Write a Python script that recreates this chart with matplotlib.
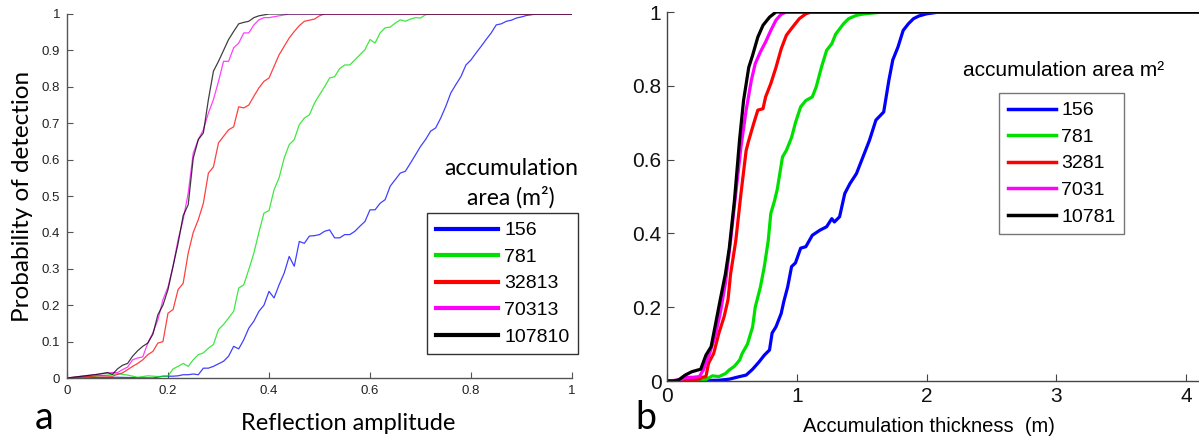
import matplotlib
matplotlib.use("Agg")
import matplotlib.pyplot as plt

# ---- panel a: probability of detection vs reflection amplitude ----
a_labels = ["156", "781", "32813", "70313", "107810"]
a_colors = ["#0000ff", "#00e000", "#ff0000", "#ff00ff", "#000000"]

a_x_156 = [0, 0.10, 0.17, 0.19, 0.21, 0.22, 0.23, 0.24, 0.25, 0.26, 0.27, 0.28, 0.29, 0.30,
           0.31, 0.32, 0.33, 0.34, 0.35, 0.36, 0.37, 0.38, 0.39, 0.40, 0.41, 0.42, 0.43, 0.44,
           0.45, 0.46, 0.47, 0.48, 0.49, 0.50, 0.51, 0.52, 0.53, 0.54, 0.55, 0.56, 0.57, 0.58,
           0.59, 0.60, 0.61, 0.62, 0.63, 0.64, 0.65, 0.66, 0.67, 0.68, 0.69, 0.70, 0.71, 0.72,
           0.73, 0.74, 0.75, 0.76, 0.77, 0.78, 0.79, 0.80, 0.81, 0.82, 0.83, 0.84, 0.85, 0.86,
           0.87, 0.88, 0.89, 0.90, 0.91, 0.92, 0.93, 1.0]
a_y_156 = [0, 0.002, 0, 0.005, 0.005, 0.006, 0.009, 0.009, 0.011, 0.009, 0.027, 0.027, 0.032, 0.039,
           0.046, 0.06, 0.087, 0.08, 0.105, 0.137, 0.156, 0.183, 0.20, 0.238, 0.22, 0.256, 0.288, 0.334,
           0.307, 0.375, 0.37, 0.39, 0.391, 0.394, 0.403, 0.407, 0.385, 0.385, 0.394, 0.394, 0.403, 0.417,
           0.43, 0.462, 0.462, 0.48, 0.49, 0.527, 0.545, 0.563, 0.568, 0.59, 0.613, 0.636, 0.655, 0.678,
           0.687, 0.714, 0.746, 0.783, 0.806, 0.828, 0.86, 0.874, 0.893, 0.911, 0.93, 0.948, 0.97, 0.973,
           0.98, 0.983, 0.989, 0.992, 0.996, 0.998, 1.0, 1.0]

a_x_781 = [0, 0.04, 0.08, 0.10, 0.12, 0.14, 0.16, 0.18, 0.20, 0.21, 0.22, 0.23, 0.24, 0.25,
           0.26, 0.27, 0.28, 0.29, 0.30, 0.31, 0.32, 0.33, 0.34, 0.35, 0.36, 0.37, 0.38, 0.39,
           0.40, 0.41, 0.42, 0.43, 0.44, 0.45, 0.46, 0.47, 0.48, 0.49, 0.50, 0.51, 0.52, 0.53,
           0.54, 0.55, 0.56, 0.57, 0.58, 0.59, 0.60, 0.61, 0.62, 0.63, 0.64, 0.65, 0.66, 0.67,
           0.68, 0.69, 0.70, 0.71, 0.72, 1.0]
a_y_781 = [0, 0.003, 0.008, 0.012, 0.008, 0.002, 0.006, 0.004, 0.005, 0.025, 0.032, 0.04, 0.032, 0.05,
           0.064, 0.069, 0.082, 0.092, 0.133, 0.147, 0.165, 0.183, 0.247, 0.256, 0.298, 0.343, 0.40, 0.453,
           0.46, 0.517, 0.55, 0.604, 0.641, 0.655, 0.696, 0.714, 0.723, 0.755, 0.778, 0.80, 0.824, 0.828,
           0.85, 0.86, 0.86, 0.874, 0.888, 0.902, 0.93, 0.92, 0.948, 0.962, 0.964, 0.975, 0.984, 0.98,
           0.986, 0.99, 0.989, 0.998, 1.0, 1.0]

a_x_32813 = [0, 0.03, 0.06, 0.09, 0.10, 0.11, 0.12, 0.13, 0.14, 0.15, 0.16, 0.17, 0.18, 0.19,
             0.20, 0.21, 0.22, 0.23, 0.24, 0.25, 0.26, 0.27, 0.28, 0.29, 0.30, 0.31, 0.32, 0.33,
             0.34, 0.35, 0.36, 0.37, 0.38, 0.39, 0.40, 0.41, 0.42, 0.43, 0.44, 0.45, 0.46, 0.47,
             0.48, 0.49, 0.50, 0.51, 1.0]
a_y_32813 = [0, 0.003, 0.006, 0.005, 0.01, 0.014, 0.023, 0.032, 0.04, 0.05, 0.064, 0.073, 0.096, 0.10,
             0.178, 0.188, 0.243, 0.26, 0.343, 0.40, 0.435, 0.48, 0.563, 0.58, 0.646, 0.664, 0.682, 0.69,
             0.745, 0.742, 0.75, 0.774, 0.797, 0.815, 0.824, 0.856, 0.888, 0.911, 0.934, 0.952, 0.968, 0.98,
             0.983, 0.986, 0.995, 1.0, 1.0]

a_x_70313 = [0, 0.03, 0.06, 0.09, 0.10, 0.11, 0.12, 0.13, 0.14, 0.15, 0.16, 0.17, 0.18, 0.19,
             0.20, 0.21, 0.22, 0.23, 0.24, 0.25, 0.26, 0.27, 0.28, 0.29, 0.30, 0.31, 0.32, 0.33,
             0.34, 0.35, 0.36, 0.37, 0.38, 0.39, 0.40, 0.42, 0.44, 1.0]
a_y_70313 = [0, 0.005, 0.01, 0.015, 0.015, 0.023, 0.03, 0.05, 0.055, 0.058, 0.096, 0.124, 0.16, 0.215,
             0.25, 0.307, 0.38, 0.435, 0.508, 0.618, 0.655, 0.682, 0.728, 0.765, 0.815, 0.87, 0.87, 0.907,
             0.92, 0.948, 0.948, 0.97, 0.984, 0.99, 0.99, 0.995, 1.0, 1.0]

a_x_107810 = [0, 0.03, 0.06, 0.08, 0.09, 0.10, 0.11, 0.12, 0.13, 0.14, 0.15, 0.16, 0.17, 0.18,
              0.19, 0.20, 0.21, 0.22, 0.23, 0.24, 0.25, 0.26, 0.27, 0.28, 0.29, 0.30, 0.31, 0.32,
              0.33, 0.34, 0.35, 0.36, 0.37, 0.38, 0.40, 1.0]
a_y_107810 = [0, 0.005, 0.01, 0.015, 0.01, 0.025, 0.035, 0.04, 0.06, 0.075, 0.087, 0.096, 0.12, 0.174,
              0.2, 0.243, 0.307, 0.37, 0.446, 0.476, 0.604, 0.655, 0.673, 0.765, 0.843, 0.87, 0.90, 0.93,
              0.952, 0.973, 0.977, 0.98, 0.99, 0.995, 1.0, 1.0]

# ---- panel b: probability of detection vs accumulation thickness ----
b_labels = ["156", "781", "3281", "7031", "10781"]
b_colors = ["#0000ff", "#00e000", "#ff0000", "#ff00ff", "#000000"]

b_x_156 = [0, 0.40, 0.48, 0.56, 0.61, 0.66, 0.71, 0.75, 0.79, 0.81, 0.84, 0.88, 0.90, 0.93,
           0.96, 0.99, 1.03, 1.07, 1.12, 1.18, 1.23, 1.27, 1.29, 1.33, 1.37, 1.41, 1.46, 1.51,
           1.56, 1.61, 1.67, 1.71, 1.74, 1.78, 1.82, 1.86, 1.90, 1.94, 2.0, 2.1, 4.1]
b_y_156 = [0, 0.002, 0.005, 0.012, 0.016, 0.032, 0.052, 0.07, 0.084, 0.13, 0.147, 0.183, 0.215, 0.255,
           0.31, 0.32, 0.36, 0.364, 0.395, 0.409, 0.418, 0.44, 0.431, 0.445, 0.508, 0.535, 0.562, 0.607,
           0.652, 0.707, 0.729, 0.815, 0.87, 0.905, 0.95, 0.968, 0.982, 0.989, 0.995, 1.0, 1.0]

b_x_781 = [0, 0.15, 0.30, 0.35, 0.40, 0.45, 0.48, 0.52, 0.56, 0.58, 0.62, 0.66, 0.68, 0.72,
           0.75, 0.78, 0.80, 0.83, 0.85, 0.89, 0.92, 0.96, 0.99, 1.03, 1.07, 1.12, 1.15, 1.19,
           1.23, 1.27, 1.30, 1.36, 1.40, 1.46, 1.52, 1.61, 1.67, 4.1]
b_y_781 = [0, 0.002, 0.004, 0.014, 0.012, 0.02, 0.03, 0.04, 0.057, 0.075, 0.10, 0.147, 0.2, 0.255,
           0.31, 0.38, 0.454, 0.49, 0.52, 0.607, 0.625, 0.66, 0.70, 0.743, 0.76, 0.77, 0.797, 0.85,
           0.896, 0.914, 0.94, 0.968, 0.982, 0.991, 0.995, 0.998, 1.0, 1.0]

b_x_3281 = [0, 0.15, 0.25, 0.27, 0.30, 0.32, 0.36, 0.40, 0.44, 0.47, 0.49, 0.53, 0.57, 0.61,
            0.63, 0.67, 0.70, 0.74, 0.76, 0.80, 0.84, 0.88, 0.92, 0.97, 1.02, 1.07, 1.11, 4.1]
b_y_3281 = [0, 0.003, 0.005, 0.01, 0.012, 0.048, 0.075, 0.13, 0.174, 0.22, 0.29, 0.38, 0.508, 0.625,
            0.652, 0.70, 0.734, 0.738, 0.77, 0.806, 0.85, 0.90, 0.937, 0.96, 0.982, 0.995, 1.0, 1.0]

b_x_7031 = [0, 0.10, 0.15, 0.20, 0.25, 0.28, 0.32, 0.37, 0.41, 0.45, 0.49, 0.53, 0.57, 0.61,
            0.65, 0.68, 0.72, 0.76, 0.80, 0.84, 0.88, 0.92, 4.1]
b_y_7031 = [0, 0.003, 0.01, 0.01, 0.012, 0.03, 0.066, 0.12, 0.183, 0.264, 0.38, 0.508, 0.634, 0.734,
            0.815, 0.86, 0.892, 0.919, 0.95, 0.978, 0.994, 1.0, 1.0]

b_x_10781 = [0, 0.05, 0.09, 0.14, 0.19, 0.26, 0.30, 0.34, 0.37, 0.41, 0.45, 0.48, 0.52, 0.56,
             0.59, 0.63, 0.66, 0.70, 0.74, 0.79, 0.84, 4.1]
b_y_10781 = [0, 0, 0.003, 0.016, 0.025, 0.032, 0.07, 0.093, 0.147, 0.22, 0.29, 0.36, 0.49, 0.657,
             0.76, 0.85, 0.883, 0.932, 0.964, 0.986, 1.0, 1.0]

a_series = [(a_x_156, a_y_156), (a_x_781, a_y_781), (a_x_32813, a_y_32813),
            (a_x_70313, a_y_70313), (a_x_107810, a_y_107810)]
b_series = [(b_x_156, b_y_156), (b_x_781, b_y_781), (b_x_3281, b_y_3281),
            (b_x_7031, b_y_7031), (b_x_10781, b_y_10781)]

W, H = 1199, 440
fig = plt.figure(figsize=(W / 100, H / 100), dpi=100)

arial = ["Liberation Sans", "DejaVu Sans"]
calib = ["Lato", "DejaVu Sans"]

# panel a
ax1 = fig.add_axes([67 / W, (H - 378) / H, (572 - 67) / W, 364 / H])
for (xs, ys), c, lab in zip(a_series, a_colors, a_labels):
    ax1.plot(xs, ys, color=c, lw=0.9, alpha=0.75, label=lab)
ax1.set_xlim(0, 1)
ax1.set_ylim(0, 1)
ax1.set_xticks([0, 0.2, 0.4, 0.6, 0.8, 1])
ax1.set_xticklabels(["0", "0.2", "0.4", "0.6", "0.8", "1"])
ax1.set_yticks([i / 10 for i in range(11)])
ax1.set_yticklabels(["0"] + ["0.%d" % i for i in range(1, 10)] + ["1"])
for s in ["top", "right"]:
    ax1.spines[s].set_visible(False)
for s in ["left", "bottom"]:
    ax1.spines[s].set_color("#555555")
    ax1.spines[s].set_linewidth(1.0)
ax1.tick_params(direction="in", length=4, width=0.8, color="#555555",
                labelsize=9.5, labelcolor="#222222", pad=5)
for t in ax1.get_xticklabels() + ax1.get_yticklabels():
    t.set_family(arial)
ax1.set_ylabel("Probability of detection", family=calib, fontsize=17.5, labelpad=6)
fig.text(348 / W, 1 - 423 / H, "Reflection amplitude", family=calib, fontsize=17,
         ha="center", va="center")
fig.text(44 / W, 1 - 418 / H, "a", family=calib, fontsize=27, ha="center", va="center")

leg1 = ax1.legend(loc="upper right", bbox_to_anchor=(578 / W, 1 - 213 / H),
                  bbox_transform=fig.transFigure, prop={"family": arial, "size": 14},
                  handlelength=3.2, handletextpad=0.3, labelspacing=0.46,
                  borderpad=0.45, borderaxespad=0, fancybox=False, framealpha=1)
leg1.get_frame().set_edgecolor("#333333")
leg1.get_frame().set_linewidth(1.0)
for h in leg1.get_lines():
    h.set_linewidth(3)
    h.set_alpha(1)
fig.text(511 / W, 1 - 168 / H, "accumulation", family=calib, fontsize=16.5,
         ha="center", va="center")
fig.text(511 / W, 1 - 197 / H, "area (m²)", family=calib, fontsize=16.5,
         ha="center", va="center")

# panel b
ax2 = fig.add_axes([667 / W, (H - 381) / H, (W - 667) / W, 369 / H])
for (xs, ys), c, lab in zip(b_series, b_colors, b_labels):
    ax2.plot(xs, ys, color=c, lw=2.3, label=lab)
ax2.set_xlim(0, 4.1)
ax2.set_ylim(0, 1)
ax2.set_xticks([0, 1, 2, 3, 4])
ax2.set_yticks([0, 0.2, 0.4, 0.6, 0.8, 1])
ax2.set_yticklabels(["0", "0.2", "0.4", "0.6", "0.8", "1"])
for s in ["top", "right"]:
    ax2.spines[s].set_visible(False)
for s in ["left", "bottom"]:
    ax2.spines[s].set_color("#444444")
    ax2.spines[s].set_linewidth(1.0)
ax2.tick_params(direction="in", length=5, width=0.8, color="#444444",
                labelsize=15, labelcolor="#111111", pad=4)
for t in ax2.get_xticklabels() + ax2.get_yticklabels():
    t.set_family(arial)
fig.text(929 / W, 1 - 426 / H, "Accumulation thickness  (m)", family=arial, fontsize=14.5,
         ha="center", va="center")
fig.text(646 / W, 1 - 418 / H, "b", family=calib, fontsize=27, ha="center", va="center")

leg2 = ax2.legend(loc="upper left", bbox_to_anchor=(999 / W, 1 - 93 / H),
                  bbox_transform=fig.transFigure, prop={"family": arial, "size": 14},
                  handlelength=2.5, handletextpad=0.25, labelspacing=0.46,
                  borderpad=0.45, borderaxespad=0, fancybox=False, framealpha=1)
leg2.get_frame().set_edgecolor("#777777")
leg2.get_frame().set_linewidth(1.0)
for h in leg2.get_lines():
    h.set_linewidth(2.5)
fig.text(1064 / W, 1 - 70 / H, "accumulation area m²", family=arial, fontsize=15,
         ha="center", va="center")

fig.savefig("out.png", dpi=100)
